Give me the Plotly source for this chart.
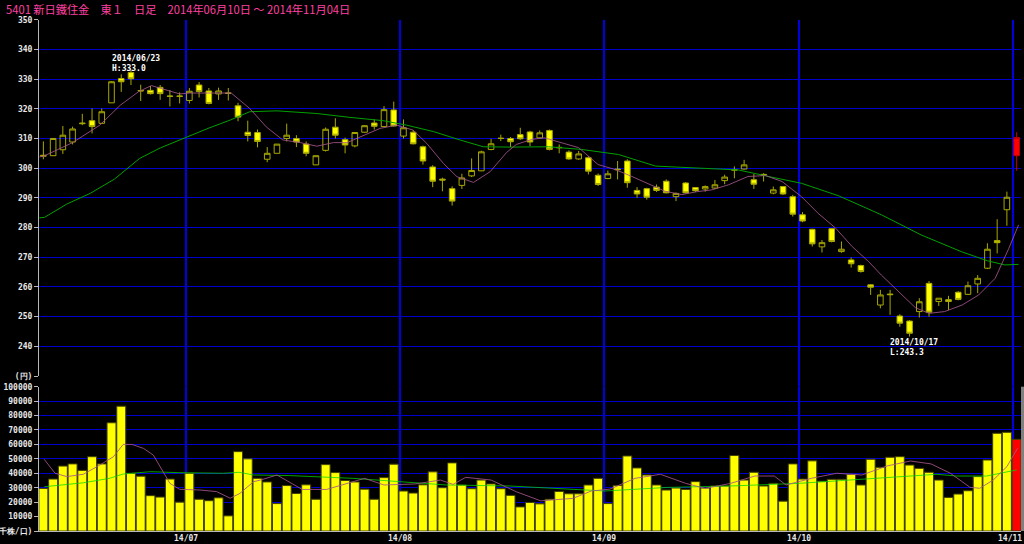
import math
import plotly.graph_objects as go
import pandas as pd

# ---------------- data ----------------
holidays = ["2014-07-21", "2014-09-15", "2014-09-23", "2014-10-13", "2014-11-03"]
dates = [d for d in pd.bdate_range("2014-06-10", "2014-11-04") if d.strftime("%Y-%m-%d") not in holidays]

opens = [304.0, 304.2, 306.2, 308.8, 315.2, 316.0, 315.1, 322.0, 330.2, 332.2,
         326.0, 326.2, 327.2, 324.3, 324.3, 322.8, 328.0, 326.0, 325.0, 325.3,
         321.0, 312.1, 312.0, 303.0, 305.0, 310.0, 310.0, 308.1, 301.1, 306.0,
         313.8, 309.6, 307.5, 312.1, 315.2, 314.0, 319.6, 310.8, 312.1, 307.2,
         300.4, 296.3, 293.1, 294.2, 297.4, 299.1, 306.3, 310.1, 310.0, 311.3,
         312.2, 310.2, 312.7, 307.0, 305.4, 303.1, 303.5, 297.6, 296.5, 299.7,
         302.4, 292.5, 293.1, 293.6, 295.6, 290.4, 295.0, 293.5, 293.0, 293.3,
         295.8, 299.3, 299.7, 296.1, 297.9, 291.6, 293.8, 290.4, 284.3, 279.4,
         273.5, 279.6, 271.9, 269.1, 267.2, 260.7, 253.9, 257.6, 250.2, 248.5,
         251.7, 261.2, 255.1, 255.7, 258.2, 257.5, 261.0, 266.3, 275.6, 286.0]
highs = [309.0, 310.1, 314.2, 314.0, 318.3, 320.1, 320.1, 329.3, 331.6, 333.0,
         328.1, 327.7, 328.0, 326.3, 325.5, 327.0, 329.0, 327.0, 327.1, 327.0,
         322.0, 316.0, 313.0, 307.1, 308.1, 315.0, 311.1, 309.0, 304.2, 313.7,
         316.8, 310.3, 312.1, 314.5, 316.4, 320.9, 322.4, 316.4, 312.8, 307.6,
         301.0, 296.8, 293.9, 298.1, 303.3, 305.9, 309.9, 311.3, 310.5, 313.6,
         312.6, 312.7, 313.0, 308.0, 306.0, 305.8, 304.0, 298.2, 299.2, 302.4,
         303.0, 293.6, 293.4, 294.5, 296.2, 291.8, 295.3, 293.6, 294.2, 296.0,
         297.8, 300.6, 302.8, 298.0, 298.3, 293.8, 294.0, 291.0, 285.2, 279.6,
         275.8, 279.8, 275.3, 269.9, 267.5, 260.9, 259.0, 259.0, 250.8, 248.8,
         256.2, 262.0, 256.2, 257.0, 258.6, 261.8, 264.0, 274.7, 282.8, 292.1]
lows = [303.0, 304.1, 304.8, 308.0, 314.5, 311.7, 315.0, 322.0, 325.7, 328.0,
        322.6, 324.8, 323.0, 320.8, 321.8, 321.8, 323.8, 321.5, 323.0, 322.8,
        315.8, 309.0, 307.0, 302.0, 305.0, 309.0, 307.1, 304.0, 301.1, 305.6,
        310.0, 305.0, 307.0, 312.0, 313.0, 314.0, 314.0, 310.0, 308.0, 301.2,
        293.6, 292.2, 287.4, 293.0, 297.0, 299.0, 306.0, 309.1, 307.1, 309.5,
        307.4, 310.0, 306.0, 305.0, 302.8, 302.8, 297.9, 294.0, 296.3, 296.2,
        293.4, 290.0, 289.4, 292.0, 291.5, 288.9, 291.5, 292.0, 292.1, 293.0,
        294.6, 296.6, 299.5, 293.0, 295.5, 291.2, 291.0, 283.7, 281.8, 273.6,
        271.6, 275.0, 271.5, 266.5, 264.8, 257.3, 252.8, 250.6, 246.6, 243.3,
        249.7, 250.0, 253.6, 252.2, 255.5, 257.3, 257.9, 266.0, 271.3, 280.6]
closes = [304.3, 310.0, 311.1, 313.2, 315.0, 314.0, 319.0, 329.1, 329.1, 330.1,
          326.1, 325.1, 325.1, 324.2, 324.2, 325.9, 325.8, 321.8, 326.0, 325.2,
          317.2, 311.0, 309.0, 305.0, 308.1, 311.1, 308.8, 305.0, 304.2, 313.1,
          311.1, 307.8, 312.0, 314.3, 314.1, 319.7, 314.2, 313.6, 308.2, 302.4,
          295.6, 296.0, 288.9, 296.7, 299.2, 305.5, 308.2, 310.0, 308.9, 309.9,
          308.8, 311.9, 306.3, 306.9, 303.1, 304.8, 299.0, 294.5, 298.1, 299.5,
          295.1, 291.3, 290.2, 292.5, 291.7, 291.5, 291.7, 292.4, 293.8, 294.4,
          297.0, 299.5, 301.1, 294.6, 297.7, 292.7, 291.3, 284.5, 282.2, 274.5,
          274.9, 275.3, 272.7, 267.8, 265.2, 259.9, 257.3, 257.4, 247.8, 244.4,
          255.0, 251.5, 256.2, 255.1, 255.8, 260.4, 262.9, 272.7, 274.9, 290.2]
# latest session (drawn in red)
last_ohlc = [304.2, 312.1, 299.1, 310.3]

volumes = [29500, 36000, 45000, 46500, 42000, 51500, 46500, 75000, 86500, 40000,
           38000, 24500, 23500, 36000, 20000,
           40000, 22000, 21000, 23000, 10500, 55000, 50000, 36500, 34000, 19000,
           31500, 26000, 32000, 22000, 46000, 40500, 35000, 34000, 29000, 22000,
           37000, 46300,
           27700, 26300, 32000, 41000, 30000, 47200, 31900, 29300, 35300, 32600,
           29300, 24700, 16700, 19800, 18800, 22000, 27400, 25800, 25800, 31900,
           36500,
           19000, 31600, 52000, 43700, 38800, 31900, 28400, 29800, 28800, 34200,
           29800, 31200, 31200, 52300, 35300, 40700, 31200, 33000, 20700, 46500,
           36000, 48600, 34500, 35800, 35800, 39300, 31900, 49700, 44100, 51100,
           51500, 45700, 43400, 40700, 35300, 23300, 25600, 27900, 37700, 49200,
           67700, 68400]
last_volume = 63500

# moving averages (bar index, value)
ma_short_idx = [-0.4, 0, 3, 5.8, 7.9, 9.8, 11.1, 12.5, 14, 15, 17, 19.3, 21.2, 22.9,
                24.6, 26.4, 28.1, 29.8, 31.2, 32.9, 34.6, 36.3, 38, 39.4, 41.1, 42.5,
                44.2, 45.9, 47.6, 48.6, 50.2, 51.5, 53.3, 55, 57, 58.7, 60.4, 62.2,
                63.9, 65.6, 67.2, 68.7, 70.4, 72.4, 74.2, 75.9, 77.9, 79.6, 81.4,
                83.1, 84.8, 86.1, 87.9, 89.6, 91, 92.6, 94.4, 96.1, 97.8, 99.2, 100.2]
ma_short_val = [303.8, 304.0, 308.6, 314.5, 321.2, 325.8, 327.8, 326.5, 325.0, 325.3,
                325.3, 325.3, 320.1, 313.9, 309.5, 308.6, 307.4, 308.6, 308.6, 311.1,
                313.4, 314.5, 312.8, 308.3, 301.6, 297.1, 295.2, 298.8, 305.3, 308.0,
                309.7, 310.2, 308.5, 306.9, 301.2, 299.6, 297.3, 294.7, 292.2, 291.1,
                292.1, 292.7, 294.4, 297.2, 297.5, 295.5, 290.4, 284.8, 279.8, 273.6,
                268.5, 264.0, 258.4, 253.0, 251.1, 251.7, 253.9, 257.3, 262.9, 273.0,
                280.9]
ma_long_idx = [-0.4, 0.1, 2.4, 4.8, 7.3, 9.9, 12, 14.6, 17, 19.2, 21.2, 24, 28.1,
               31.5, 34.9, 37.3, 40.1, 42.8, 45.2, 48, 51.9, 55.3, 59.1, 62.9, 67.3,
               71.4, 74.8, 77.9, 81.7, 86.1, 90.2, 94.3, 97, 98.8, 100.2]
ma_long_val = [283.3, 283.4, 287.9, 291.5, 296.3, 303.3, 306.8, 310.4, 313.5, 316.2,
               319.0, 319.3, 318.4, 317.1, 316.0, 314.5, 312.3, 309.5, 307.2, 307.1,
               307.2, 306.3, 304.6, 300.7, 300.1, 299.4, 297.0, 294.9, 290.7, 284.3,
               277.5, 271.9, 268.8, 267.4, 267.6]
vma_short_idx = [0.08, 1.2, 2.4, 4.1, 5.8, 7.2, 8.2, 9.1, 10.3, 11.3, 13, 14, 16.1,
                 17.8, 19.2, 20.2, 21.6, 22.3, 24, 26.6, 29.1, 31.7, 33, 35, 38.2,
                 40.8, 42.1, 43.4, 46, 48.6, 51.1, 54.4, 56.3, 58.2, 60.8, 63.4, 66,
                 68, 70.6, 73.1, 75.1, 76.3, 78.9, 81.5, 84.1, 86.7, 89.1, 91.2, 93.2,
                 95.2, 96.2, 97.6, 99, 100.1]
vma_short_val = [49700, 40000, 37700, 39300, 45700, 51500, 60000, 60000, 57200, 52600,
                 33000, 28900, 28400, 27300, 22700, 26100, 34200, 35300, 38800, 28800,
                 28800, 34200, 36500, 31900, 32600, 35300, 32300, 37200, 35300, 27200,
                 20900, 22600, 27700, 29000, 36500, 39300, 33000, 29500, 33000, 38100,
                 38100, 31900, 36500, 40000, 38800, 45100, 48500, 46500, 40000, 30300,
                 29600, 35300, 44600, 57300]
vma_long_idx = [0.1, 4.1, 6.8, 8.2, 11, 14, 18.5, 20.1, 21.6, 25.3, 31.8, 36.6, 41.4,
                47.9, 54.4, 57.7, 64.1, 70.6, 77.6, 83.9, 87.3, 91.8, 93.8, 96.9, 98.3,
                100]
vma_long_val = [30700, 33400, 36500, 39500, 41100, 40400, 40000, 40700, 38800, 38400,
                36500, 34200, 31900, 31200, 28800, 27700, 30200, 31200, 33000, 35800,
                37700, 39300, 38100, 38100, 40000, 42300]

title_text = "5401 新日鐵住金　東１　日足　2014年06月10日 ～ 2014年11月04日"
high_note = "2014/06/23<br>H:333.0"
low_note = "2014/10/17<br>L:243.3"
price_ticks = list(range(230, 351, 10))
vol_ticks = list(range(0, 100001, 10000))

# ---------------- layout geometry ----------------
W, H = 1024, 544
ML, MR = 39, 3
PW = W - ML - MR
n = len(closes)
idx = list(range(n))
xr = [-0.45, n + 0.45]


def snap(pos):
    """move a vertical line onto a whole pixel"""
    px = ML + (pos - xr[0]) / (xr[1] - xr[0]) * PW
    px = math.floor(px) + 1.0
    return xr[0] + (px - ML) / PW * (xr[1] - xr[0])


month_first = [i for i in range(1, len(dates)) if dates[i].month != dates[i - 1].month]
month_pos = [snap(i - 0.4) for i in month_first]
month_lbl = [dates[i].strftime("%y/%m") for i in month_first]

price_dom = [(H - 376) / H, (H - 19.7) / H]
vol_dom = [(H - 531) / H, (H - 386.7) / H]

GRID = "#0000cc"
VLINE = "#0000e0"
TICKFONT = dict(family="DejaVu Sans Mono", size=8, color="#e8e8e8", weight="bold")
NOTEFONT = dict(family="DejaVu Sans Mono", size=8, color="#ffffff", weight="bold")
MAUVE = "rgba(165,85,140,0.85)"

fig = go.Figure()

fig.add_trace(go.Candlestick(
    x=idx, open=opens, high=highs, low=lows, close=closes,
    increasing=dict(fillcolor="rgba(0,0,0,0)", line=dict(color="#a8a800", width=1)),
    decreasing=dict(fillcolor="#ffff00", line=dict(color="#a8a800", width=1)),
    whiskerwidth=0, xaxis="x", yaxis="y", showlegend=False, hoverinfo="skip"))
fig.add_trace(go.Candlestick(
    x=[n], open=[last_ohlc[0]], high=[last_ohlc[1]], low=[last_ohlc[2]], close=[last_ohlc[3]],
    increasing=dict(fillcolor="#ff0000", line=dict(color="#c00000", width=1)),
    decreasing=dict(fillcolor="#ff0000", line=dict(color="#c00000", width=1)),
    whiskerwidth=0, xaxis="x", yaxis="y", showlegend=False, hoverinfo="skip"))
fig.add_trace(go.Scatter(x=ma_long_idx, y=ma_long_val, mode="lines",
                         line=dict(color="#00a000", width=1), xaxis="x", yaxis="y",
                         showlegend=False, hoverinfo="skip"))
fig.add_trace(go.Scatter(x=ma_short_idx, y=ma_short_val, mode="lines",
                         line=dict(color=MAUVE, width=1), xaxis="x", yaxis="y",
                         showlegend=False, hoverinfo="skip"))

vol_colors = ["#ffff00"] * n + ["#ff0000"]
fig.add_trace(go.Bar(x=idx + [n], y=volumes + [last_volume], marker=dict(color=vol_colors,
                     line=dict(color="#404000", width=1)), xaxis="x2", yaxis="y2",
                     showlegend=False, hoverinfo="skip"))
fig.add_trace(go.Scatter(x=vma_long_idx, y=vma_long_val, mode="lines",
                         line=dict(color="rgba(0,215,0,0.75)", width=1), xaxis="x2", yaxis="y2",
                         showlegend=False, hoverinfo="skip"))
fig.add_trace(go.Scatter(x=vma_short_idx, y=vma_short_val, mode="lines",
                         line=dict(color=MAUVE, width=1), xaxis="x2", yaxis="y2",
                         showlegend=False, hoverinfo="skip"))

# month separators: one segment per panel (kept in each subplot's own layer) plus the gap
shapes = []
for p in month_pos:
    shapes.append(dict(type="line", xref="x", yref="y", x0=p, x1=p, y0=230, y1=350,
                       line=dict(color=VLINE, width=2), layer="below"))
    shapes.append(dict(type="line", xref="x2", yref="y2", x0=p, x1=p, y0=0, y1=100000,
                       line=dict(color=VLINE, width=2), layer="below"))
    shapes.append(dict(type="line", xref="x", yref="paper", x0=p, x1=p, y0=vol_dom[1],
                       y1=price_dom[0], line=dict(color=VLINE, width=2), layer="above"))
shapes.append(dict(type="rect", xref="paper", yref="paper", x0=1.0, x1=1 + 3 / PW,
                   y0=vol_dom[0], y1=vol_dom[1], fillcolor="#808080", line_width=0))

annotations = [
    dict(text=title_text, xref="paper", yref="paper", x=-35 / PW, y=1, xanchor="left",
         yanchor="top", yshift=1, showarrow=False,
         font=dict(family="Noto Sans CJK JP", size=11.2, color="#ff40a0")),
    dict(text=high_note, xref="x", yref="y", x=6.8, y=339.0, xanchor="left", yanchor="top",
         align="left", showarrow=False, font=NOTEFONT),
    dict(text=low_note, xref="x", yref="y", x=86.8, y=243.4, xanchor="left", yanchor="top",
         align="left", showarrow=False, font=NOTEFONT),
]
for k, (p, lbl) in enumerate(zip(month_pos, month_lbl)):
    last = k == len(month_pos) - 1
    annotations.append(dict(text=lbl, xref="x", yref="paper", x=p, y=vol_dom[0], yshift=-1,
                            xanchor="center", yanchor="top", xshift=-3 if last else 0,
                            showarrow=False, font=TICKFONT))

fig.update_layout(
    width=W, height=H,
    margin=dict(l=ML, r=MR, t=0, b=0),
    paper_bgcolor="#000000", plot_bgcolor="#000000",
    boxgap=0.18, bargap=0.08,
    xaxis=dict(domain=[0, 1], range=xr, anchor="y", showticklabels=False, showgrid=False,
               zeroline=False, ticks="", rangeslider=dict(visible=False), fixedrange=True),
    yaxis=dict(domain=price_dom, range=[230, 350],
               tickvals=price_ticks, ticktext=["(円)"] + [str(v) for v in price_ticks[1:]],
               showgrid=True, gridcolor=GRID, gridwidth=1, zeroline=False,
               showline=True, linecolor="#b8b8b8", linewidth=1, ticks="outside", ticklen=4,
               tickcolor="#b8b8b8", tickfont=TICKFONT, automargin=False),
    xaxis2=dict(domain=[0, 1], range=xr, anchor="y2", showticklabels=False, showgrid=False,
                zeroline=False, ticks="", showline=True, linecolor="#b8b8b8", automargin=False),
    yaxis2=dict(domain=vol_dom, range=[0, 100000],
                tickvals=vol_ticks, ticktext=["(千株/口)"] + [str(v) for v in vol_ticks[1:]],
                showgrid=True, gridcolor=GRID, gridwidth=1, zeroline=False,
                showline=True, linecolor="#b8b8b8", linewidth=1, ticks="outside", ticklen=4,
                tickcolor="#b8b8b8", tickfont=TICKFONT, automargin=False),
    annotations=annotations,
    shapes=shapes,
)

fig.write_html("out.html", config={"displayModeBar": False},
               post_script="document.body.style.margin='0';document.body.style.overflow='hidden';")
